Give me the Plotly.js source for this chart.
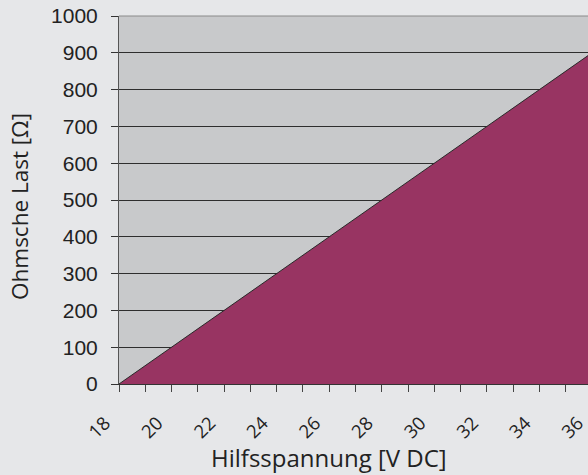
<!DOCTYPE html>
<html>
<head>
<meta charset="utf-8">
<script src="https://cdn.plot.ly/plotly-3.0.1.min.js"></script>
<style>
html,body{margin:0;padding:0;overflow:hidden;background:#e6e7e9;}
#chart{width:600px;height:475px;}
</style>
</head>
<body>
<div id="chart"></div>
<script>
// Data
const voltage = [18, 36];          // Hilfsspannung [V DC]
const resistance = [0, 900];       // Ohmsche Last [Ω] (max. load line)
const xTickVals = [18, 20, 22, 24, 26, 28, 30, 32, 34, 36];
const yTickVals = [0, 100, 200, 300, 400, 500, 600, 700, 800, 900, 1000];
const xTitle = 'Hilfsspannung [V DC]';
const yTitle = 'Ohmsche Last [Ω]';

const trace = {
  x: voltage,
  y: resistance,
  type: 'scatter',
  mode: 'lines',
  fill: 'tozeroy',
  fillcolor: '#983462',
  line: {color: '#2a2a2a', width: 1},
  hoverinfo: 'skip'
};

const layout = {
  width: 600,
  height: 475,
  margin: {l: 119, r: 8, t: 16, b: 91},
  paper_bgcolor: '#e6e7e9',
  plot_bgcolor: '#c8c9cb',
  showlegend: false,
  xaxis: {
    range: [18, 36],
    tickmode: 'array',
    tickvals: xTickVals,
    ticktext: xTickVals.map(String),
    tickangle: -45,
    ticks: 'outside',
    ticklen: 7,
    tickcolor: '#444',
    ticklabelstandoff: 13,
    ticklabelshift: -14,
    minor: {dtick: 1, ticks: 'outside', ticklen: 7, tickcolor: '#444', showgrid: false},
    showgrid: false,
    zeroline: false,
    showline: true,
    linecolor: '#333',
    linewidth: 1,
    tickfont: {family: 'Open Sans, sans-serif', size: 18.5, color: '#222'}
  },
  yaxis: {
    range: [0, 1000],
    tickmode: 'array',
    tickvals: yTickVals,
    ticktext: yTickVals.map(String),
    ticks: 'outside',
    ticklen: 7,
    tickcolor: '#333',
    ticklabelstandoff: 9,
    showgrid: true,
    gridcolor: '#2e2e2e',
    gridwidth: 1,
    zeroline: false,
    showline: true,
    linecolor: '#555',
    linewidth: 1,
    tickfont: {family: 'Liberation Sans, Arial, sans-serif', size: 21, color: '#222'}
  },
  annotations: [
    {text: xTitle, xref: 'paper', yref: 'paper', x: 0.444, y: -0.201,
     xanchor: 'center', yanchor: 'middle', showarrow: false,
     font: {family: 'Open Sans, sans-serif', size: 24, color: '#222'}},
    {text: yTitle, xref: 'paper', yref: 'paper', x: -0.2093, y: 0.481,
     xanchor: 'center', yanchor: 'middle', showarrow: false, textangle: -90,
     font: {family: 'Open Sans, sans-serif', size: 22.5, color: '#222'}}
  ],
  shapes: [{
    type: 'line', xref: 'paper', yref: 'paper', x0: 0, x1: 1, y0: 1, y1: 1,
    line: {color: '#8a8a8a', width: 1}
  }]
};

Plotly.newPlot('chart', [trace], layout, {displayModeBar: false, staticPlot: true});
</script>
</body>
</html>
